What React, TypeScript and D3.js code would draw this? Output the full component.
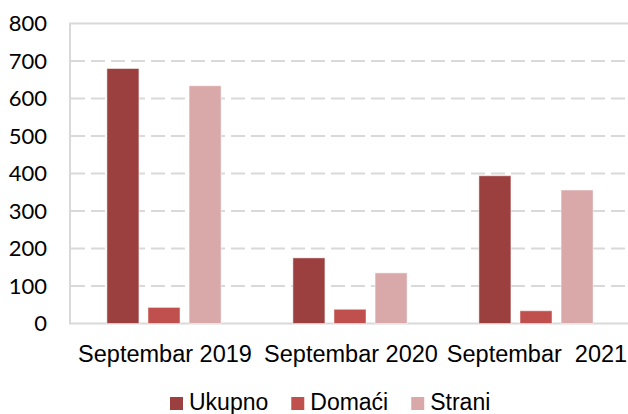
import * as d3 from "d3";
import React from "react";

const categories = ["Septembar 2019", "Septembar 2020", "Septembar  2021"];
const seriesNames = ["Ukupno", "Domaći", "Strani"];
const ukupno = [680, 175, 394];
const domaci = [43, 38, 34];
const strani = [634, 135, 356];
const yTicks = [0, 100, 200, 300, 400, 500, 600, 700, 800];

const colors = ["#9c3f3f", "#c0504d", "#d9a9a9"];

const width = 628;
const height = 414;
const margin = { top: 23.5, right: 0, bottom: 90, left: 71 };

function textWidth(txt: string, font: string) {
  const c = document.createElement("canvas").getContext("2d");
  if (!c) return txt.length * 12;
  c.font = font;
  return c.measureText(txt).width;
}

export default function App() {
  const values = [ukupno, domaci, strani];

  const x0 = d3
    .scaleBand()
    .domain(categories)
    .range([margin.left, width - margin.right + 1])
    .padding(0);
  const bw = x0.bandwidth();
  const x1 = d3
    .scaleBand()
    .domain(seriesNames)
    .range([bw * 0.193, bw * 0.807])
    .paddingInner(0.22)
    .paddingOuter(0);

  const y = d3
    .scaleLinear()
    .domain([0, 800])
    .range([height - margin.bottom - 0.5, margin.top]);

  // legend layout
  const legendFont = "23px 'Liberation Sans', Arial, sans-serif";
  const sq = 13;
  const legendItems: { name: string; x: number; color: string }[] = [];
  let lx = 170;
  seriesNames.forEach((s, i) => {
    legendItems.push({ name: s, x: lx, color: colors[i] });
    lx += sq + 6 + textWidth(s, legendFont) + 23;
  });

  return (
    <svg
      width={width}
      height={height}
      style={{ position: "absolute", left: 0, top: 0, background: "#fff" }}
    >
      {/* grid */}
      {yTicks.map((t) => (
        <line
          key={t}
          x1={margin.left}
          x2={width}
          y1={y(t)}
          y2={y(t)}
          stroke="#d9d9d9"
          strokeWidth={2}
          strokeDasharray={t === 0 || t === 800 ? undefined : "14,6"}
        />
      ))}
      <line
        x1={margin.left - 1}
        x2={margin.left - 1}
        y1={y(800) - 1}
        y2={y(0) + 1}
        stroke="#d9d9d9"
        strokeWidth={2}
      />

      {/* y labels */}
      {yTicks.map((t) => (
        <text
          key={t}
          x={47}
          y={y(t)}
          dy="0.36em"
          textAnchor="end"
          fontFamily="Lato, 'Open Sans', sans-serif"
          fontSize={22}
          fill="#000"
        >
          {t}
        </text>
      ))}

      {/* bars */}
      {categories.map((c, ci) => (
        <g key={c} transform={`translate(${x0(c)},0)`}>
          {seriesNames.map((s, si) => (
            <rect
              key={s}
              x={x1(s)}
              y={y(values[si][ci])}
              width={x1.bandwidth()}
              height={y(0) - y(values[si][ci])}
              fill={colors[si]}
              stroke="#ffffff"
              strokeOpacity={0.5}
              strokeWidth={1}
            />
          ))}
        </g>
      ))}

      {/* x labels */}
      {categories.map((c) => (
        <text
          key={c}
          x={(x0(c) as number) + bw / 2 + 1}
          y={362}
          textAnchor="middle"
          fontFamily="'Liberation Sans', Arial, sans-serif"
          fontSize={23.5}
          fill="#000"
          style={{ whiteSpace: "pre" }}
        >
          {c}
        </text>
      ))}

      {/* legend */}
      {legendItems.map((it) => (
        <g key={it.name}>
          <rect x={it.x} y={397} width={sq} height={sq} fill={it.color} />
          <text
            x={it.x + sq + 6}
            y={410}
            fontFamily="'Liberation Sans', Arial, sans-serif"
            fontSize={23}
            fill="#000"
          >
            {it.name}
          </text>
        </g>
      ))}
    </svg>
  );
}
